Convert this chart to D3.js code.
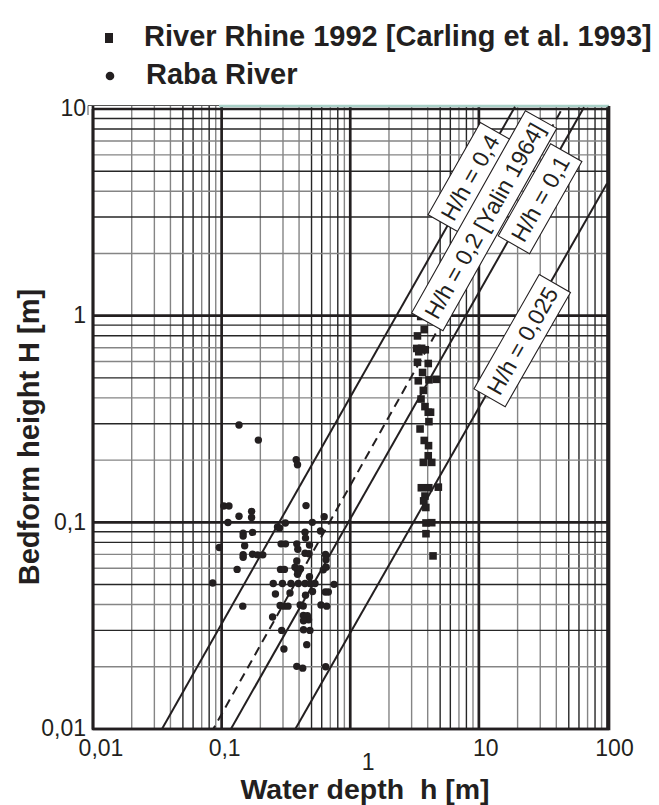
<!DOCTYPE html>
<html><head><meta charset="utf-8">
<script src="https://cdnjs.cloudflare.com/ajax/libs/d3/7.8.5/d3.min.js"></script>
<style>body{margin:0;background:#fff}svg{display:block}</style>
</head><body><svg id="c" width="659" height="805"></svg>
<script>
// ---------- data ----------
const rabaDepth = [0.1365,0.193,0.104,0.114,0.1365,0.171,0.171,0.112,0.147,0.147,0.174,0.0959,0.151,0.147,0.147,0.174,0.190,0.209,0.132,0.0852,0.146,
 0.380,0.389,0.453,0.627,0.272,0.282,0.313,0.507,0.445,0.449,0.587,0.290,0.314,0.384,0.391,0.482,0.445,0.478,0.642,0.648,
 0.287,0.308,0.372,0.389,0.410,0.389,0.482,0.617,0.650,0.252,0.297,0.346,0.395,0.445,0.486,0.532,0.748,0.262,0.340,0.449,
 0.509,0.640,0.675,0.285,0.305,0.328,0.408,0.431,0.592,0.656,0.249,0.432,0.446,0.464,0.474,0.433,0.293,0.433,0.486,0.459,
 0.305,0.384,0.427,0.644,0.384];
const rabaHeight = [0.296,0.250,0.120,0.120,0.107,0.113,0.1056,0.0998,0.0887,0.0858,0.0894,0.0755,0.0771,0.0697,0.0678,0.0701,0.0696,0.0696,0.0592,0.0509,0.0393,
 0.201,0.190,0.1205,0.1065,0.0949,0.0939,0.0993,0.100,0.0895,0.0839,0.0908,0.0787,0.0787,0.0787,0.0741,0.0776,0.0709,0.0705,0.0699,0.0659,
 0.0592,0.0592,0.0607,0.0588,0.0596,0.0560,0.0546,0.0589,0.0607,0.0506,0.0506,0.0506,0.0506,0.0506,0.0506,0.0506,0.0501,0.0450,0.0455,0.0444,
 0.0463,0.0460,0.0460,0.0396,0.0393,0.0393,0.0398,0.0394,0.0398,0.0393,0.0348,0.0354,0.0340,0.0353,0.0338,0.0334,0.0300,0.0302,0.0300,0.0256,
 0.0244,0.0201,0.0197,0.0200,0.0650];
const rhineDepth = [3.53,3.76,3.33,3.29,3.59,3.83,3.41,3.33,4.04,3.65,3.38,4.09,4.67,3.70,3.55,3.81,4.04,4.21,4.09,3.49,3.76,4.06,4.04,3.70,4.30,
 3.57,4.08,4.84,3.81,3.72,3.87,3.88,4.30,3.88,4.40];
const rhineHeight = [0.991,0.856,0.798,0.694,0.695,0.684,0.669,0.595,0.587,0.531,0.484,0.489,0.492,0.435,0.395,0.363,0.341,0.341,0.307,0.283,0.249,0.235,0.210,0.195,0.195,
 0.147,0.147,0.148,0.134,0.127,0.118,0.0993,0.0996,0.0881,0.0688];

// reference lines H/h (two points each)
const lineLabels = ["H/h = 0,4", "H/h = 0,2 [Yalin 1964]", "H/h = 0,1", "H/h = 0,025"];
const lineDepthStart = [0.0328, 0.0822, 0.1127, 0.357];
const lineHeightStart = [0.0095, 0.0095, 0.0095, 0.0095];
const lineDepthEnd = [19.1, 44.3, 65.7, 99.1];
const lineHeightEnd = [10.26, 10.0, 10.2, 4.36];
const lineDashed = [false, true, false, false];
const labelHeightAt = [4.66, 2.88, 3.68, 0.757];   // H where the label box sits on its line

const xTickValues = [0.01, 0.1, 1, 10, 100];
const xTickLabels = ["0,01", "0,1", "1", "10", "100"];
const yTickValues = [0.01, 0.1, 1, 10];
const yTickLabels = ["0,01", "0,1", "1", "10"];

const legendLabels = ["River Rhine 1992 [Carling et al. 1993]", "Raba River"];

// ---------- layout ----------
const svg = d3.select("#c");
const x = d3.scaleLog().domain([0.01, 100]).range([93, 607.5]);
const y = d3.scaleLog().domain([0.01, 10]).range([729, 109]);
const X0 = 93, X1 = 609, Y0 = 106, Y1 = y(0.01);
const ink = "#231f20";
const FONT = "'Liberation Sans', Arial, sans-serif";

// grid
function minors(lo, hi) {
  const out = [];
  for (let e = Math.log10(lo); e < Math.log10(hi) - 1e-9; e++)
    for (let m = 2; m <= 9; m++) out.push({v: m * Math.pow(10, e), m});
  return out;
}
const vDark = {2:0,3:0,4:0,5:1,6:1,7:0,8:1,9:0};
const hDark = {2:0,3:1,4:0,5:1,6:0,7:0,8:1,9:1};
const g = svg.append("g");
g.selectAll(".vm").data(minors(0.01, 100)).join("line")
  .attr("x1", d => x(d.v)).attr("x2", d => x(d.v)).attr("y1", Y0).attr("y2", Y1)
  .attr("stroke", d => vDark[d.m] ? "#262626" : "#858585").attr("stroke-width", 1.4);
g.selectAll(".hm").data(minors(0.01, 10)).join("line")
  .attr("y1", d => y(d.v)).attr("y2", d => y(d.v)).attr("x1", X0).attr("x2", X1)
  .attr("stroke", d => hDark[d.m] ? "#262626" : "#858585").attr("stroke-width", 1.4);
g.selectAll(".vM").data(xTickValues).join("line")
  .attr("x1", d => x(d)).attr("x2", d => x(d)).attr("y1", Y0).attr("y2", Y1)
  .attr("stroke", ink).attr("stroke-width", 2.7);
g.selectAll(".hM").data(yTickValues).join("line")
  .attr("y1", d => y(d)).attr("y2", d => y(d)).attr("x1", X0).attr("x2", X1)
  .attr("stroke", ink).attr("stroke-width", 2.7);
// top edge (light teal rule) and frame
svg.append("line").attr("x1", 219).attr("x2", X1).attr("y1", 106).attr("y2", 106)
  .attr("stroke", "#a9d0c7").attr("stroke-width", 2.5);
svg.append("line").attr("x1", 88).attr("x2", 219).attr("y1", 105.5).attr("y2", 105.5)
  .attr("stroke", "#555").attr("stroke-width", 1);
svg.append("line").attr("x1", 88).attr("x2", 88).attr("y1", 105.5).attr("y2", 115)
  .attr("stroke", "#555").attr("stroke-width", 1);
svg.append("path").attr("d", `M${X0},${y(10)}V${Y1}H${X1}V${Y0}`)
  .attr("fill", "none").attr("stroke", ink).attr("stroke-width", 2.7);

// clip
svg.append("clipPath").attr("id", "clip").append("rect")
  .attr("x", X0).attr("y", Y0).attr("width", X1 - X0).attr("height", Y1 - Y0);

// reference lines
const lines = lineLabels.map((t, i) => ({
  t, dashed: lineDashed[i],
  p0: [lineDepthStart[i], lineHeightStart[i]], p1: [lineDepthEnd[i], lineHeightEnd[i]], hAt: labelHeightAt[i]
}));
const lg = svg.append("g").attr("clip-path", "url(#clip)");
lg.selectAll("line.ref").data(lines).join("line")
  .attr("x1", d => x(d.p0[0])).attr("y1", d => y(d.p0[1]))
  .attr("x2", d => x(d.p1[0])).attr("y2", d => y(d.p1[1]))
  .attr("stroke", ink).attr("stroke-width", 2)
  .attr("stroke-dasharray", d => d.dashed ? "9,6" : null);

// points
const pg = svg.append("g").attr("clip-path", "url(#clip)");
pg.selectAll("circle").data(d3.zip(rabaDepth, rabaHeight)).join("circle")
  .attr("cx", d => x(d[0])).attr("cy", d => y(d[1])).attr("r", 3.7).attr("fill", ink);
pg.selectAll("rect").data(d3.zip(rhineDepth, rhineHeight)).join("rect")
  .attr("x", d => x(d[0]) - 3.8).attr("y", d => y(d[1]) - 3.8)
  .attr("width", 7.6).attr("height", 7.6).attr("fill", ink);

// label boxes on the lines
const labelShift = [-5, -15, 8, 5];
const boxG = svg.append("g");
lines.forEach((d, i) => {
  const ax = x(d.p0[0]), ay = y(d.p0[1]), bx = x(d.p1[0]), by = y(d.p1[1]);
  const ang = Math.atan2(by - ay, bx - ax) * 180 / Math.PI;
  const cy = y(d.hAt);
  const cx = ax + (bx - ax) * (cy - ay) / (by - ay) + labelShift[i];
  const gg = boxG.append("g").attr("transform", `translate(${cx},${cy}) rotate(${ang})`);
  const txt = gg.append("text").attr("text-anchor", "middle").attr("dy", "0.36em")
    .attr("font-family", FONT).attr("font-size", 23).attr("fill", ink).text(d.t);
  const w = txt.node().getComputedTextLength() + 12;
  gg.insert("rect", "text").attr("x", -w / 2).attr("y", -18).attr("width", w).attr("height", 36)
    .attr("fill", "#fff").attr("stroke", ink).attr("stroke-width", 1.1);
});

// tick labels
const xLabelNudge = [[8, 0], [3, 0], [18, 14], [7, 0], [7, 0]];
svg.append("g").selectAll("text").data(xTickValues).join("text")
  .attr("x", (d, i) => x(d) + xLabelNudge[i][0]).attr("y", (d, i) => 756 + xLabelNudge[i][1])
  .attr("text-anchor", "middle").attr("font-family", FONT).attr("font-size", 23).attr("fill", ink)
  .text((d, i) => xTickLabels[i]);
svg.append("g").selectAll("text").data(yTickValues).join("text")
  .attr("x", 86).attr("y", d => y(d) - 1).attr("dy", "0.36em")
  .attr("text-anchor", "end").attr("font-family", FONT).attr("font-size", 23).attr("fill", ink)
  .text((d, i) => yTickLabels[i]);

// axis titles
svg.append("text").attr("x", 365).attr("y", 799).attr("text-anchor", "middle")
  .attr("font-family", FONT).attr("font-weight", "bold").attr("font-size", 28.5).attr("fill", ink)
  .attr("xml:space", "preserve").text("Water depth  h [m]");
svg.append("text").attr("transform", "translate(39,437) rotate(-90)").attr("text-anchor", "middle")
  .attr("font-family", FONT).attr("font-weight", "bold").attr("font-size", 29).attr("fill", ink)
  .text("Bedform height H [m]");

// legend
const leg = svg.append("g");
leg.append("rect").attr("x", 105).attr("y", 33).attr("width", 8).attr("height", 10).attr("fill", ink);
leg.append("circle").attr("cx", 110).attr("cy", 76).attr("r", 4.3).attr("fill", ink);
leg.selectAll("text").data(legendLabels).join("text")
  .attr("x", (d, i) => i ? 146 : 144).attr("y", (d, i) => i ? 84 : 46)
  .attr("font-family", FONT).attr("font-weight", "bold").attr("font-size", 29).attr("fill", ink)
  .text(d => d);
</script></body></html>
